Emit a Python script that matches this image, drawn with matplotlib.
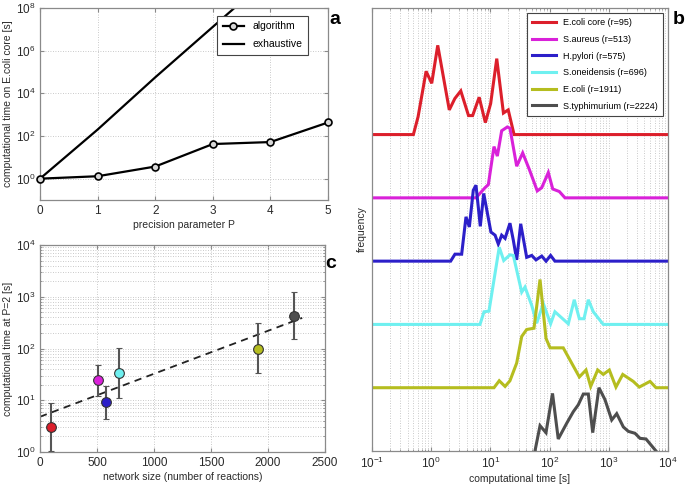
import numpy as np
import matplotlib
matplotlib.use("Agg")
import matplotlib.pyplot as plt
from matplotlib.ticker import LogLocator, FixedLocator, NullLocator, NullFormatter

plt.rcParams['font.family'] = ['Liberation Sans', 'DejaVu Sans']
plt.rcParams['mathtext.fontset'] = 'custom'
plt.rcParams['mathtext.rm'] = 'Liberation Sans'
plt.rcParams['mathtext.it'] = 'Liberation Sans:italic'

# panel a : cost vs precision parameter
P = [0, 1, 2, 3, 4, 5]
t_algorithm = [1.0, 1.3, 3.7, 42, 52, 430]
t_exhaustive = [1.0, 2.0e2, 5.6e4, 1.3e7, 3.0e9, 7.0e11]

# panel c : time at P=2 vs network size
organisms = ["E.coli core", "S.aureus", "H.pylori", "S.oneidensis", "E.coli", "S.typhimurium"]
n_reactions = [95, 513, 575, 696, 1911, 2224]
t_p2 = [3.06, 24.7, 9.1, 33.3, 100, 430]
t_p2_low = [1.05, 12.2, 4.4, 11.2, 34, 155]
t_p2_high = [8.7, 48, 18.9, 102, 310, 1240]
fit_x = [0, 2300]
fit_y = [4.8, 390]

colors = ['#dc1f2b', '#d921d9', '#2c1fc9', '#6ff0f0', '#b5bd1f', '#4e4e4e']

# panel b : distributions of computational time (stacked)
red_t = [0.1, 0.50, 0.60, 0.82, 1.02, 1.29, 2.02, 2.51, 3.16, 4.27, 5.01, 6.46, 8.22, 10.1, 12.8, 16.6, 20.0, 25.1, 1e4]
red_h = [0, 0, 0.28, 1.0, 0.81, 1.41, 0.39, 0.57, 0.69, 0.30, 0.30, 0.59, 0.19, 0.49, 1.20, 0.34, 0.39, 0, 0]

mag_t = [0.1, 5.71, 8.11, 9.23, 11.5, 13.1, 15.5, 19.3, 21.4, 27.8, 35.1, 45.4, 61.9, 73.6, 95.1, 113, 146, 182, 1e4]
mag_h = [0, 0, 0.16, 0.21, 0.81, 0.66, 1.06, 1.12, 1.10, 0.50, 0.71, 0.45, 0.11, 0.16, 0.40, 0.14, 0.10, 0, 0]

blue_t = [0.1, 2.13, 2.52, 3.27, 3.87, 4.41, 5.14, 5.71, 6.75, 7.71, 10.2, 12.0, 13.6, 15.5, 17.7, 21.4, 24.4,
          27.8, 32.5, 41.0, 49.9, 58.9, 73.6, 87.1, 104, 123, 1e4]
blue_h = [0, 0, 0.11, 0.11, 0.70, 0.54, 1.12, 1.20, 0.55, 1.07, 0.46, 0.41, 0.27, 0.41, 0.36, 0.60, 0.33,
          0.02, 0.59, 0.06, 0.09, 0.02, 0.08, 0, 0.09, 0, 0]

cyan_t = [0.1, 6.67, 7.80, 9.46, 14.1, 16.8, 21.4, 24.4, 33.8, 38.4, 49.9, 60.5, 78.3, 104, 123, 207, 261,
          318, 381, 451, 547, 807, 1e4]
cyan_h = [0, 0, 0.20, 0.21, 1.22, 1.01, 1.10, 1.09, 0.51, 0.59, 0.30, 0.02, 0.33, 0.01, 0.20, 0.01, 0.39,
          0.09, 0.09, 0.39, 0.20, 0, 0]

olive_t = [0.1, 11.5, 14.1, 17.7, 21.4, 27.8, 33.8, 41.0, 54.5, 68.9, 86.9, 102, 170, 318, 412, 494, 649,
           807, 1020, 1320, 1720, 2590, 3270, 4970, 6270, 1e4]
olive_h = [0, 0, 0.11, 0.02, 0.11, 0.39, 0.81, 0.92, 0.94, 1.71, 0.78, 0.63, 0.63, 0.17, 0.28, 0.02, 0.28,
           0.21, 0.28, 0.01, 0.21, 0.10, 0.01, 0.10, 0, 0]

gray_t = [56.6, 68.9, 86.9, 112, 140, 195, 251, 305, 371, 451, 535, 682, 863, 1120, 1360, 1760, 2140,
          2770, 3370, 4250, 6270]
gray_h = [0, 0.40, 0.29, 0.91, 0.19, 0.44, 0.62, 0.73, 0.90, 0.90, 0.29, 1.00, 0.81, 0.49, 0.59, 0.38, 0.31,
          0.28, 0.20, 0.19, 0]

dist_t = [red_t, mag_t, blue_t, cyan_t, olive_t, gray_t]
dist_h = [red_h, mag_h, blue_h, cyan_h, olive_h, gray_h]
offsets = [5, 4, 3, 2, 1, 0]
legend_b = ["E.coli core (r=95)", "S.aureus (r=513)", "H.pylori (r=575)",
            "S.oneidensis (r=696)", "E.coli (r=1911)", "S.typhimurium (r=2224)"]

spine_col = '#8a8a8a'
text_col = '#2a2a2a'
grid_kw = dict(color='#b8b8b8', linestyle=(0, (1, 2)), linewidth=0.6)


def style_axes(ax):
    for s in ax.spines.values():
        s.set_color(spine_col)
        s.set_linewidth(0.9)
    ax.tick_params(which='both', direction='in', colors=spine_col, labelcolor=text_col,
                   labelsize=8.5, top=True, right=True)
    ax.tick_params(which='major', length=3)
    ax.tick_params(which='minor', length=1.5)


fig = plt.figure(figsize=(6.85, 4.84), dpi=100)

# ---- a ----
ax_a = fig.add_axes([40/685, 1-200/484, 288/685, 192/484])
ax_a.plot(P, t_exhaustive, '-', color='black', lw=1.6, label='exhaustive')
ax_a.plot(P, t_algorithm, '-o', color='black', lw=1.6, ms=5, mfc='#d8d8d8', mec='black', mew=1.2,
          label='algorithm', clip_on=False, zorder=4)
ax_a.set_yscale('log')
ax_a.set_xlim(0, 5)
ax_a.set_ylim(1e-1, 1e8)
ax_a.yaxis.set_major_locator(FixedLocator([1, 1e2, 1e4, 1e6, 1e8]))
ax_a.yaxis.set_minor_locator(NullLocator())
ax_a.grid(True, which='major', **grid_kw)
style_axes(ax_a)
ax_a.set_xlabel('precision parameter P', fontsize=7.5, color=text_col, labelpad=2)
ax_a.set_ylabel('computational time on E.coli core [s]', fontsize=7.5, color=text_col, labelpad=2)
h_a, l_a = ax_a.get_legend_handles_labels()
leg = ax_a.legend(h_a[::-1], l_a[::-1], loc='upper right', bbox_to_anchor=(0.93, 0.96), borderaxespad=0,
                  fontsize=7.5, fancybox=False, edgecolor='#444444', handlelength=2.0, labelspacing=0.75,
                  borderpad=0.55, framealpha=1)
leg.get_frame().set_linewidth(0.8)

# ---- c ----
ax_c = fig.add_axes([40/685, 1-452/484, 285/685, 207/484])
ax_c.plot(fit_x, fit_y, '--', color='#222222', lw=1.3, dashes=(4, 3))
for i in range(len(n_reactions)):
    ax_c.errorbar([n_reactions[i]], [t_p2[i]],
                  yerr=[[t_p2[i]-t_p2_low[i]], [t_p2_high[i]-t_p2[i]]],
                  fmt='o', color='#555555', ecolor='#555555', elinewidth=1.5, capsize=2.5, capthick=1.2,
                  ms=7, mfc=colors[i], mec='#333333', mew=0.8, zorder=3)
ax_c.set_yscale('log')
ax_c.set_xlim(0, 2500)
ax_c.set_ylim(1, 1e4)
ax_c.set_xticks([0, 500, 1000, 1500, 2000, 2500])
ax_c.yaxis.set_major_locator(LogLocator(base=10, numticks=10))
ax_c.yaxis.set_minor_locator(LogLocator(base=10, subs=np.arange(2, 10), numticks=10))
ax_c.yaxis.set_minor_formatter(NullFormatter())
ax_c.grid(True, which='major', **grid_kw)
ax_c.grid(True, which='minor', axis='y', **grid_kw)
style_axes(ax_c)
ax_c.set_xlabel('network size (number of reactions)', fontsize=7.5, color=text_col, labelpad=2)
ax_c.set_ylabel('computational time at P=2 [s]', fontsize=7.5, color=text_col, labelpad=2)

# ---- b ----
ax_b = fig.add_axes([372/685, 1-451/484, 296/685, 443/484])
for i in range(len(dist_t)):
    h = np.array(dist_h[i]) + offsets[i]
    ax_b.plot(dist_t[i], h, '-', color=colors[i], lw=2.2, label=legend_b[i], solid_joinstyle='miter')
ax_b.set_xscale('log')
ax_b.set_xlim(1e-1, 1e4)
ax_b.set_ylim(0, 7)
ax_b.set_yticks([])
ax_b.xaxis.set_major_locator(LogLocator(base=10, numticks=10))
ax_b.xaxis.set_minor_locator(LogLocator(base=10, subs=np.arange(2, 10), numticks=10))
ax_b.xaxis.set_minor_formatter(NullFormatter())
ax_b.grid(True, which='both', axis='x', **grid_kw)
style_axes(ax_b)
ax_b.set_xlabel('computational time [s]', fontsize=7.5, color=text_col, labelpad=2)
ax_b.set_ylabel('frequency', fontsize=7.5, color=text_col, labelpad=4)
leg_b = ax_b.legend(loc='upper right', bbox_to_anchor=(0.983, 0.989), borderaxespad=0, fontsize=6.5,
                    fancybox=False, edgecolor='#444444', handlelength=2.6, labelspacing=0.85,
                    borderpad=0.6, framealpha=1)
leg_b.get_frame().set_linewidth(0.8)

# panel letters
fig.text(335/685, 1-19/484, 'a', fontsize=14, fontweight='bold', ha='center', va='center')
fig.text(679/685, 1-19/484, 'b', fontsize=14, fontweight='bold', ha='center', va='center')
fig.text(331/685, 1-264/484, 'c', fontsize=14, fontweight='bold', ha='center', va='center')

fig.savefig('out.png', dpi=100)
